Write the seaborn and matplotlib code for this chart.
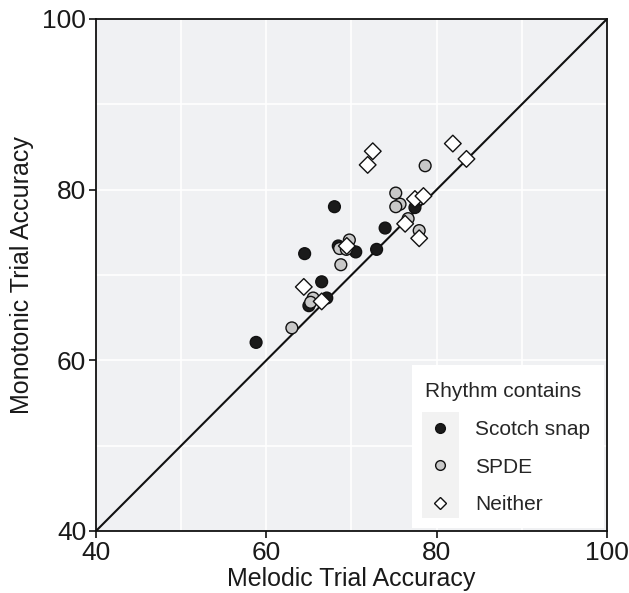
import numpy as np
import pandas as pd
import matplotlib
matplotlib.use("Agg")
import matplotlib.pyplot as plt
from matplotlib.lines import Line2D
from matplotlib.patches import Rectangle
from matplotlib.transforms import Bbox
import seaborn as sns

# Data
snap_x = [68.0, 64.5, 66.5, 67.1, 65.0, 68.45, 70.5, 72.95, 73.95, 77.45, 58.8]
snap_y = [78.0, 72.5, 69.2, 67.3, 66.4, 73.4, 72.7, 73.0, 75.5, 77.9, 62.1]
spde_x = [78.65, 75.2, 75.7, 75.2, 76.65, 77.95, 69.75, 68.6, 69.4, 68.75, 65.5, 65.2, 63.0]
spde_y = [82.8, 79.6, 78.3, 78.0, 76.6, 75.2, 74.1, 73.1, 73.0, 71.2, 67.3, 66.8, 63.8]
neither_x = [72.5, 71.9, 81.9, 83.5, 77.45, 78.45, 76.3, 77.95, 69.45, 64.4, 66.5]
neither_y = [84.5, 82.9, 85.4, 83.6, 78.9, 79.25, 76.0, 74.3, 73.4, 68.6, 66.9]
groups = ["Scotch snap", "SPDE", "Neither"]
ticks = [40, 60, 80, 100]

df = pd.concat([
    pd.DataFrame({"x": snap_x, "y": snap_y, "g": groups[0]}),
    pd.DataFrame({"x": spde_x, "y": spde_y, "g": groups[1]}),
    pd.DataFrame({"x": neither_x, "y": neither_y, "g": groups[2]}),
])

sns.set_theme(style="white")
plt.rcParams["font.family"] = ["Liberation Sans", "DejaVu Sans"]

fig = plt.figure(figsize=(6.29, 5.93), dpi=100)
ax = fig.add_axes([0.1526, 0.1046, 0.8124, 0.8634])
ax.set_facecolor("#f0f1f3")

for v in [50, 60, 70, 80, 90]:
    ax.axvline(v, color="white", lw=1.2, zorder=0)
    ax.axhline(v, color="white", lw=1.2, zorder=0)

ax.plot([40, 100], [40, 100], color="#111111", lw=1.5, zorder=1)

palette = {"Scotch snap": "#1a1a1a", "SPDE": "#c8c8c8", "Neither": "#ffffff"}
markers = {"Scotch snap": "o", "SPDE": "o", "Neither": "D"}
sns.scatterplot(data=df, x="x", y="y", hue="g", style="g", palette=palette,
                markers=markers, s=72, edgecolor="#111111", linewidth=1.0,
                legend=False, ax=ax, zorder=3)

ax.set_xlim(40, 100)
ax.set_ylim(40, 100)
ax.set_xticks(ticks)
ax.set_yticks(ticks)
ax.tick_params(axis="both", labelsize=19, length=5, width=1.2, color="#111111",
               labelcolor="#1a1a1a", pad=2, bottom=True, left=True)
for sp in ax.spines.values():
    sp.set_visible(True)
    sp.set_color("#111111")
    sp.set_linewidth(1.3)
ax.set_xlabel("Melodic Trial Accuracy", fontsize=18, color="#1a1a1a", labelpad=2)
ax.set_ylabel("Monotonic Trial Accuracy", fontsize=18, color="#1a1a1a", labelpad=6)

handles = [
    Line2D([], [], marker="o", ls="", markersize=7, markerfacecolor="#1a1a1a", markeredgecolor="#111111"),
    Line2D([], [], marker="o", ls="", markersize=7, markerfacecolor="#c8c8c8", markeredgecolor="#111111"),
    Line2D([], [], marker="D", ls="", markersize=6, markerfacecolor="#ffffff", markeredgecolor="#111111"),
]
leg = ax.legend(handles, groups, title="Rhythm contains", loc="lower right",
                fontsize=15, title_fontsize=15, frameon=False,
                borderaxespad=0.15, handletextpad=1.0, labelspacing=0.9,
                borderpad=0.65, handlelength=1.4)
leg._legend_box.align = "left"

fig.canvas.draw()
r = fig.canvas.get_renderer()
inv = fig.transFigure.inverted()
lb = leg.get_window_extent(r)
fb = Bbox(inv.transform(lb.get_points()))
fig.patches.append(Rectangle((fb.x0, fb.y0), fb.width, fb.height + 0.006,
                             transform=fig.transFigure, facecolor="white",
                             edgecolor="none", zorder=4))
boxes = []
for col in leg._legend_handle_box.get_children():
    for item in col.get_children():
        boxes.append(item.get_children()[0].get_window_extent(r))
kb = Bbox.union(boxes)
pts = inv.transform([[kb.x0 - 3, kb.y0 - 8], [kb.x1 + 5, kb.y1 + 8]])
fig.patches.append(Rectangle(tuple(pts[0]), pts[1][0] - pts[0][0], pts[1][1] - pts[0][1],
                             transform=fig.transFigure, facecolor="#f2f2f2",
                             edgecolor="none", zorder=5))
leg.remove()
fig.legends.append(leg)
leg.set_zorder(6)

fig.savefig("out.png", dpi=100)
